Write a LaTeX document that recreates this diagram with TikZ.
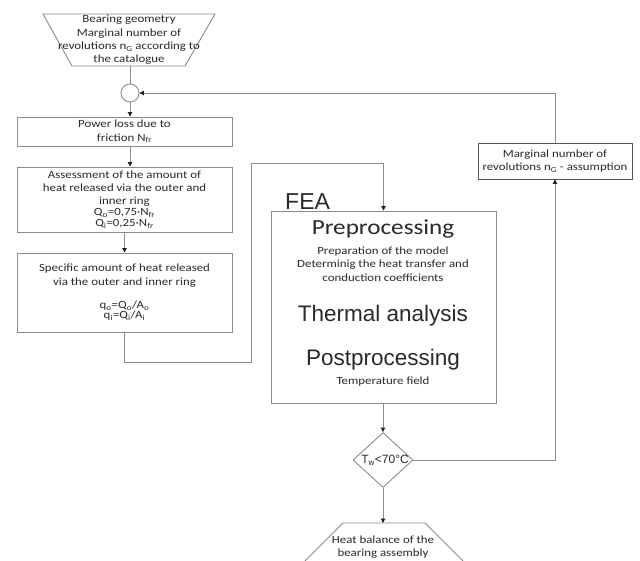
\documentclass[tikz,border=0pt]{standalone}
\usepackage{fontspec}
\setmainfont{Carlito}[FakeStretch=1.17]
\newfontfamily\arifont{Liberation Sans}
\newfontfamily\calfont[FakeStretch=1.17]{Carlito}
\usetikzlibrary{arrows.meta,shapes.geometric}
\definecolor{lgray}{HTML}{8C8C8C}
\definecolor{dgray}{HTML}{555555}
\definecolor{tcol}{HTML}{2A2A2A}
\definecolor{tipc}{HTML}{222222}
\begin{document}
\begin{tikzpicture}[x=1pt,y=-1pt,
  line/.style={draw=lgray,line width=0.9pt},
  arr/.style={line,-{Triangle[length=4.5pt,width=4.5pt,color=tipc]}},
  txt/.style={font=\calfont\fontsize{11}{13.3}\selectfont,text=tcol,align=center},
  box/.style={draw=lgray,line width=0.9pt,minimum width=215pt,inner sep=0pt,txt},
  bigari/.style={font=\arifont\fontsize{22.5}{22.5}\selectfont,text=tcol,inner sep=0pt},
  bigcal/.style={font=\calfont\fontsize{21.5}{21.5}\selectfont,text=tcol,inner sep=0pt}]
\useasboundingbox (0,0) rectangle (640,561);
\clip (0,0) rectangle (640,561);
\fill[white] (0,0) rectangle (640,561);

% top trapezoid
\draw[line] (43,14) -- (215,14) -- (185,66) -- (72,66) -- cycle;
\node[txt] (topt) at (129,40) {Bearing geometry\\Marginal number of\\revolutions n\textsubscript{G} according to\\the catalogue};
\coordinate (topb) at (130,66);

% junction circle
\node[draw=lgray,line width=0.9pt,circle,minimum size=18pt,inner sep=0pt] (circ) at (130,93) {};

% left boxes
\node[box,minimum height=29pt] (b1) at (124.5,131.5) {Power loss due to\\friction N\textsubscript{fr}};
\node[box,minimum height=65pt] (b2) at (124.5,199.5) {Assessment of the amount of\\heat released via the outer and\\inner ring\\[-2.5pt]Q\textsubscript{o}=0,75·N\textsubscript{fr}\\[-2.5pt]Q\textsubscript{i}=0,25·N\textsubscript{fr}};
\node[box,minimum height=79pt] (b3) at (124.5,292.5) {Specific amount of heat released\\via the outer and inner ring\\[10pt]q\textsubscript{o}=Q\textsubscript{o}/A\textsubscript{o}\\[-3pt]q\textsubscript{i}=Q\textsubscript{i}/A\textsubscript{i}};

% FEA block
\node[draw=lgray,line width=0.9pt,minimum width=225pt,minimum height=192pt,inner sep=0pt] (fea) at (383.5,307) {};
\node[font=\arifont\fontsize{23}{23}\selectfont,text=tcol,anchor=base west,inner sep=0pt] (fealbl) at (285,210) {FEA};
\node[bigcal] (pre) at (383,229) {Preprocessing};
\node[txt] (prep) at (383,264) {Preparation of the model\\Determinig the heat transfer and\\conduction coefficients};
\node[bigari] (therm) at (383,316) {Thermal analysis};
\node[bigari] (post) at (383,360) {Postprocessing};
\node[txt] (tf) at (383,382) {Temperature field};

% decision
\node[draw=lgray,line width=0.9pt,diamond,minimum width=60pt,minimum height=55pt,inner sep=0pt] (dia) at (383,460) {};
\node[font=\arifont\fontsize{12}{12}\selectfont,text=tcol,inner sep=0pt] (diat) at (385,460) {T\textsubscript{w}<70°C};

% bottom trapezoid
\draw[line] (291,575) -- (343,523) -- (425,523) -- (477,575);
\coordinate (bt) at (383,523);
\node[txt] (btxt) at (383,547) {Heat balance of the\\bearing assembly};

% right box
\node[draw=dgray,line width=0.9pt,minimum width=154pt,minimum height=36pt,inner sep=0pt,txt] (mb) at (555,161) {Marginal number of\\revolutions n\textsubscript{G} - assumption};

% connectors
\coordinate (c1) at (251,362);
\coordinate (c2) at (251,163);
\draw[line] (topb) -- (circ.north);
\draw[arr] (circ.south) -- (circ.south |- b1.north);
\draw[arr] (b1.south -| circ) -- (b2.north -| circ);
\draw[arr] (b2.south) -- (b3.north);
\draw[arr] (b3.south) |- (c1) -- (c2) -| (fea.north);
\draw[arr] (fea.south -| dia) -- (dia.north);
\draw[arr] (dia.south) -- (bt);
\draw[arr] (dia.east) -| (mb.south);
\draw[arr] (mb.north) |- (circ.east);
\end{tikzpicture}
\end{document}
